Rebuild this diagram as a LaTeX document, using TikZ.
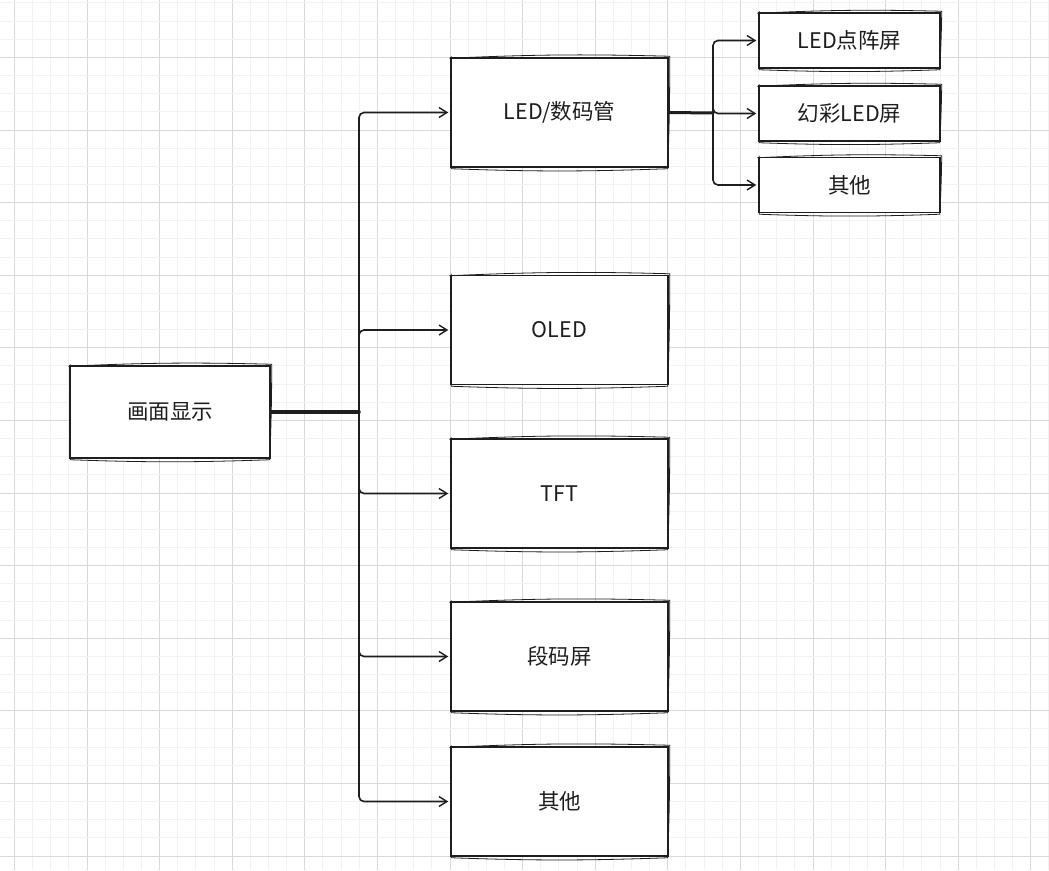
\documentclass[tikz,border=0pt]{standalone}
\usepackage{fontspec}
\setmainfont{Noto Sans CJK SC}
\usetikzlibrary{arrows.meta,calc}
\definecolor{minorgrid}{HTML}{F2F2F2}
\definecolor{majorgrid}{HTML}{D9D9D9}
\definecolor{ink}{HTML}{1E1E1E}
\tikzset{
  box/.style={draw=ink, line width=1.5pt, fill=white, rectangle, inner sep=0pt,
    font=\fontsize{21.5}{26}\selectfont, text=ink},
  sk/.style={draw=ink, line width=0.8pt},
  conn/.style={draw=ink, line width=1.6pt, rounded corners=5pt},
  arr/.style={conn, -{Straight Barb[length=8pt,width=10pt,line width=1.4pt]}, shorten >=2pt}
}
\newcommand{\skbox}[6]{%
  \node[box, minimum width=#4pt, minimum height=#5pt] (#1) at (#2,#3) {#6};
  \draw[sk] ($(#1.north west)+(-1,1)$) to[bend left=2] ($(#1.north east)+(1,-1)$)
            to[bend left=1] ($(#1.south east)+(-1,1)$)
            to[bend left=2] ($(#1.south west)+(1,1)$)
            to[bend left=1] ($(#1.north west)+(1,-1)$);
}
\begin{document}
\begin{tikzpicture}[x=1pt,y=-1pt]
\useasboundingbox (0,0) rectangle (1049,870);
\fill[white] (0,0) rectangle (1049,870);
% grid
\foreach \k in {0,...,57}{
  \pgfmathsetmacro\xx{14.3+\k*18.15}
  \pgfmathtruncatemacro\m{mod(\k,4)}
  \ifnum\m=0 \draw[majorgrid,line width=0.8pt] (\xx,0) -- (\xx,870);
  \else \draw[minorgrid,line width=0.8pt] (\xx,0) -- (\xx,870); \fi
}
\foreach \k in {0,...,47}{
  \pgfmathsetmacro\yy{2.85+\k*18.15}
  \pgfmathtruncatemacro\m{mod(\k,4)}
  \ifnum\m=3 \draw[majorgrid,line width=0.8pt] (0,\yy) -- (1049,\yy);
  \else \draw[minorgrid,line width=0.8pt] (0,\yy) -- (1049,\yy); \fi
}
% boxes
\skbox{root}{170}{412}{200}{92}{画面显示}
\skbox{led}{559.5}{112.5}{217}{109}{LED/数码管}
\skbox{oled}{559.5}{330}{217}{109}{OLED}
\skbox{tft}{559.5}{493.5}{217}{109}{TFT}
\skbox{seg}{559.5}{656.5}{217}{109}{段码屏}
\skbox{oth}{559.5}{801.5}{217}{109}{其他}
\skbox{dot}{849.5}{40.5}{181}{55}{LED点阵屏}
\skbox{rgb}{849.5}{113.5}{181}{55}{幻彩LED屏}
\skbox{oth2}{849.5}{185}{181}{55}{其他}
% trunk 1
\coordinate (t1) at (359,412);
\draw[ink, line width=3.5pt, line cap=round] (root.east) -- (t1);
\draw[arr] (t1) |- (led.west);
\draw[arr] (t1) |- (oled.west);
\draw[arr] (t1) |- (tft.west);
\draw[arr] (t1) |- (seg.west);
\draw[arr] (t1) |- (oth.west);
% trunk 2
\coordinate (t2) at (713,113);
\draw[ink, line width=3pt, line cap=round] (led.east) -- (t2);
\draw[arr] (t2) |- (dot.west);
\draw[arr] (t2) |- (rgb.west);
\draw[arr] (t2) |- (oth2.west);
\end{tikzpicture}
\end{document}
